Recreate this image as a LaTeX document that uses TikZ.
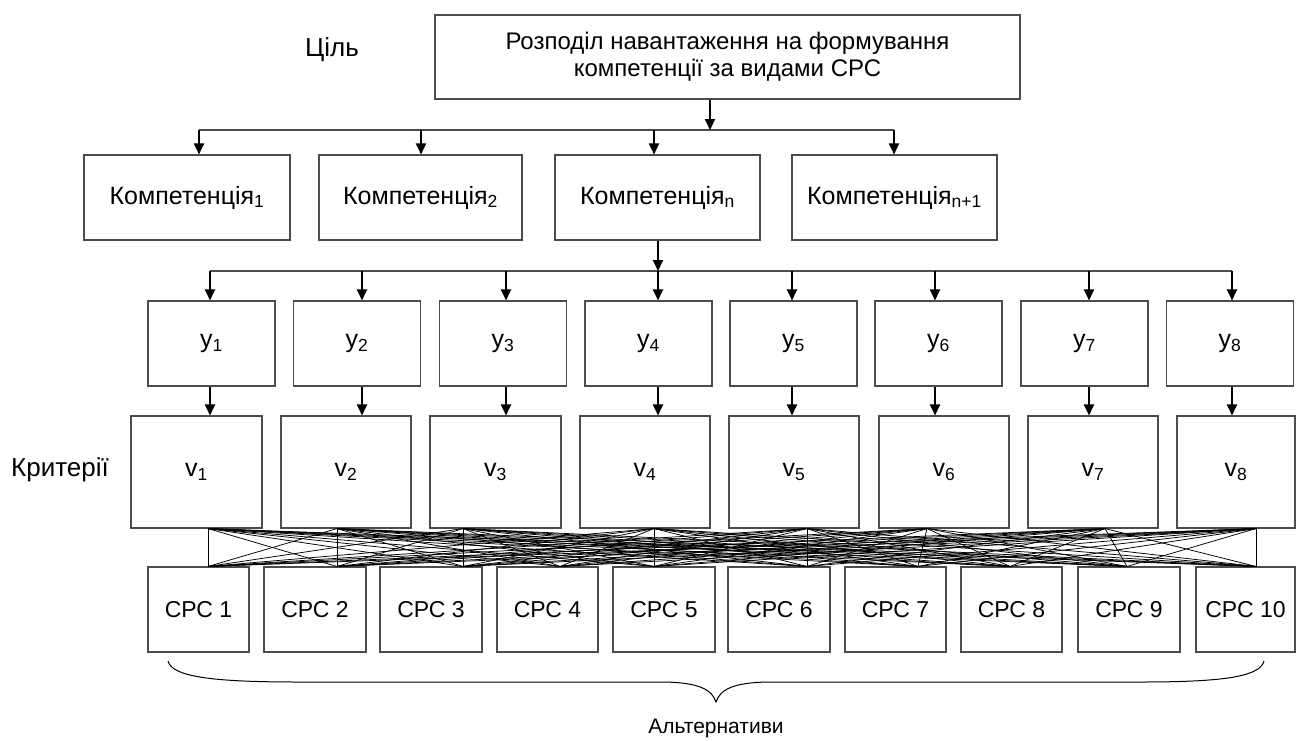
\documentclass[tikz,border=0pt]{standalone}
\usepackage{fontspec}
\setmainfont{Liberation Sans}
\usetikzlibrary{arrows.meta}
\begin{document}
\begin{tikzpicture}[x=1pt,y=-1pt,
  box/.style={draw=black!70, line width=1.1pt, inner sep=0pt, align=center,
              font=\fontsize{23}{28}\selectfont},
  kbox/.style={box, font=\fontsize{25}{30}\selectfont},
  tbox/.style={box, font=\fontsize{24}{27}\selectfont},
  vbox/.style={box, font=\fontsize{25}{30}\selectfont},
  arr/.style={draw=black, line width=2pt, -{Triangle[length=11pt,width=10pt]}},
  bus/.style={draw=black!70, line width=1.2pt},
  mesh/.style={draw=black, line width=0.75pt},
  lbl/.style={font=\fontsize{26}{30}\selectfont, inner sep=0pt}]
\useasboundingbox (0,0) rectangle (1296,740);
% labels
\node[lbl] (goal) at (332,50) {Ціль};
\node[lbl] (crit) at (60,470) {Критерії};
\node[lbl, font=\fontsize{21}{25}\selectfont] (alt) at (716,728) {Альтернативи};
% title
\node[tbox, minimum width=585pt, minimum height=84pt] (title) at (727.5,57)
  {Розподіл навантаження на формування\\компетенції за видами СРС};
% competences
\node[kbox, minimum width=206pt, minimum height=85pt] (K1) at (187,197.5) {Компетенція\textsubscript{1}};
\node[kbox, minimum width=203pt, minimum height=85pt] (K2) at (420.5,197.5) {Компетенція\textsubscript{2}};
\node[kbox, minimum width=205pt, minimum height=85pt] (Kn) at (657.5,197.5) {Компетенція\textsubscript{n}};
\node[kbox, minimum width=205pt, minimum height=85pt] (Kn1) at (894.5,197.5) {Компетенція\textsubscript{n+1}};
% y row
\foreach \i/\cx in {1/211.5,2/357,3/503,4/648.5,5/793.5,6/938.5,7/1084.5,8/1230}
  \node[vbox, minimum width=127pt, minimum height=85pt] (y\i) at (\cx,343.5) {y\textsubscript{\i}};
% v row
\foreach \i/\cx/\w in {1/196.5/131,2/346/130,3/495.5/131,4/645/130,5/794/130,6/944/130,7/1093/130,8/1236/118}
  \node[vbox, minimum width=\w pt, minimum height=112pt] (v\i) at (\cx,472) {v\textsubscript{\i}};
% CPC row
\foreach \i/\cx/\w in {1/198.5/101,2/315/102,3/431/102,4/547.5/101,5/664/102,6/779/102,7/895.5/101,8/1011.5/101,9/1129/102,10/1245.5/99}
  \node[box, minimum width=\w pt, minimum height=85pt] (c\i) at (\cx,609.5) {СРС \i};
% top bus
\coordinate (tb) at (710,130);
\coordinate (b1) at (199,130);
\coordinate (b2) at (421,130);
\coordinate (b3) at (654,130);
\coordinate (b4) at (894,130);
\draw[bus] (b1) -- (b4);
\draw[arr] (title.south -| tb) -- (tb);
\draw[arr] (b1) -- (b1 |- K1.north);
\draw[arr] (b2) -- (b2 |- K2.north);
\draw[arr] (b3) -- (b3 |- Kn.north);
\draw[arr] (b4) -- (b4 |- Kn1.north);
% second bus
\coordinate (kb) at (658,271);
\draw[bus] (210,271) coordinate (s1) -- (1232,271) coordinate (s8);
\draw[arr] (Kn.south -| kb) -- (kb);
\foreach \i/\x in {1/210,2/362,3/506,4/658,5/792,6/935,7/1089,8/1232}{
  \coordinate (sb\i) at (\x,271);
  \draw[arr] (sb\i) -- (sb\i |- y\i.north);
  \draw[arr] (y\i.south -| sb\i) -- (sb\i |- v\i.north);
}
% mesh anchors
\foreach \i/\x in {1/208,2/337,3/463,4/654,5/807,6/927,7/1105,8/1256}
  \coordinate (va\i) at (v\i.south -| \x,0);
\foreach \j/\x in {1/208,2/337,3/463,4/560,5/654,6/807,7/918,8/1010,9/1127,10/1256}
  \coordinate (ca\j) at (c\j.north -| \x,0);
\foreach \i in {1,...,8}
  \foreach \j in {1,...,10}
    \draw[mesh] (va\i) -- (ca\j);
% brace
\draw[line width=1pt] (168,661) .. controls (172,678) and (220,682) .. (300,682)
  -- (660,682) .. controls (700,682) and (712,690) .. (716,702)
  .. controls (720,690) and (732,682) .. (772,682) -- (1140,682)
  .. controls (1215,682) and (1260,678) .. (1264,661);
\end{tikzpicture}
\end{document}
